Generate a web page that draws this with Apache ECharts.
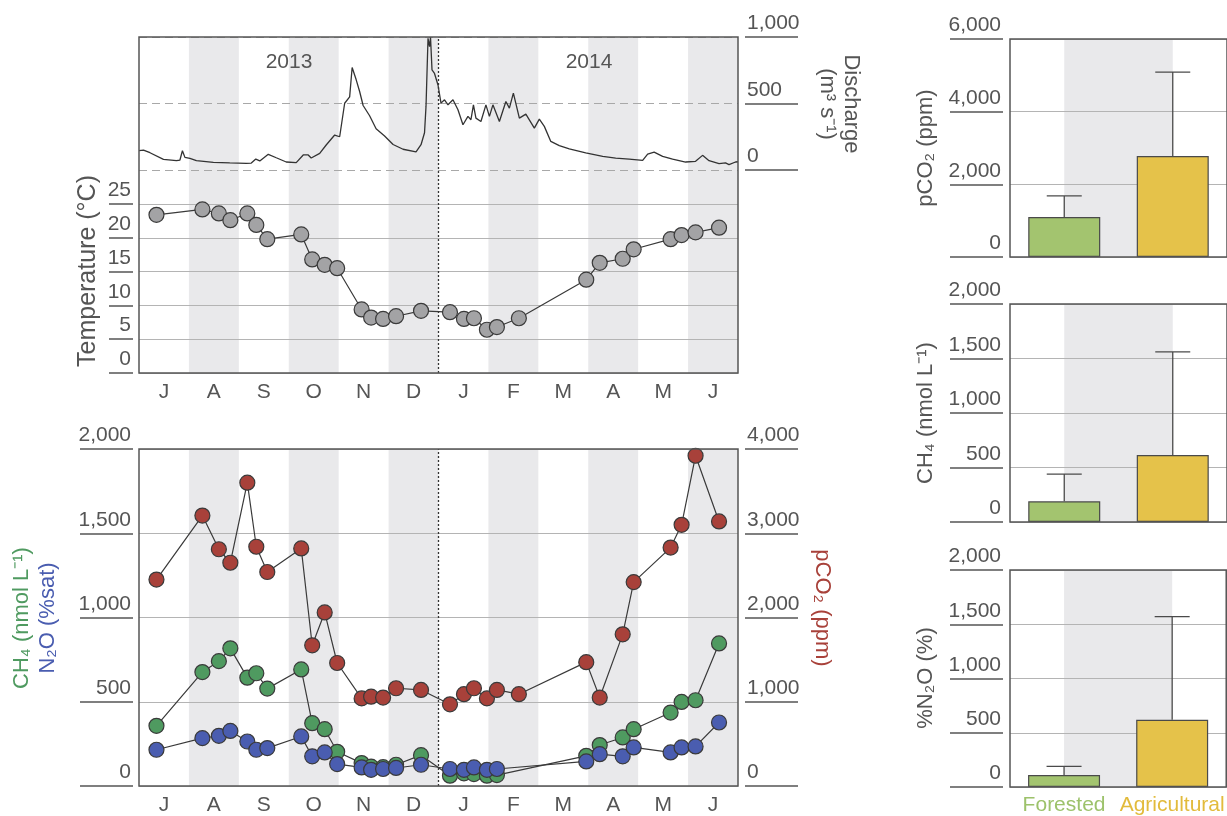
<!DOCTYPE html>
<html>
<head>
<meta charset="utf-8">
<script src="https://cdn.jsdelivr.net/npm/echarts@6.0.0/dist/echarts.min.js"></script>
<style>
  html, body { margin: 0; padding: 0; background: #fff; }
  #chart { width: 1227px; height: 816px; }
</style>
</head>
<body>
<div id="chart"></div>
<script>
// months shown on the time axes (Jul 2013 - Jun 2014)
const monthLabels = ["J", "A", "S", "O", "N", "D", "J", "F", "M", "A", "M", "J"];
const yearLabels = ["2013", "2014"];

// sampling dates, in months since 1 Jul 2013
const sampleMonth = [0.35, 1.27, 1.60, 1.83, 2.17, 2.35, 2.57, 3.25, 3.47, 3.72, 3.97, 4.46, 4.65, 4.89, 5.15,
  5.65, 6.23, 6.51, 6.71, 6.97, 7.17, 7.61, 8.96, 9.23, 9.69, 9.91, 10.65, 10.87, 11.15, 11.62];
const temperature = [23.4, 24.2, 23.6, 22.6, 23.6, 21.9, 19.8, 20.5, 16.8, 16.0, 15.5, 9.4, 8.2, 8.0, 8.4,
  9.2, 9.0, 8.0, 8.1, 6.4, 6.8, 8.1, 13.8, 16.3, 16.9, 18.3, 19.8, 20.4, 20.8, 21.5];
const pco2 = [2450, 3210, 2810, 2650, 3600, 2840, 2540, 2820, 1670, 2060, 1460, 1040, 1060, 1050, 1160,
  1140, 970, 1090, 1160, 1040, 1140, 1090, 1470, 1050, 1800, 2420, 2830, 3100, 3920, 3140];
const ch4 = [357, 676, 741, 817, 643, 669, 578, 692, 373, 337, 203, 136, 115, 112, 126,
  183, 61, 75, 71, 61, 65, null, 179, 243, 288, 337, 436, 499, 509, 846];
const n2o = [215, 284, 298, 327, 264, 215, 225, 294, 176, 199, 130, 110, 96, 101, 107,
  126, 101, 96, 110, 96, 101, null, 146, 189, 176, 229, 199, 229, 235, 377];

// river discharge (m3 s-1), months since 1 Jul 2013
const dischargeMonth = [0, 0.09, 0.22, 0.49, 0.75, 0.82, 0.87, 0.92, 1.02, 1.15, 1.49, 1.82, 2.15, 2.25, 2.34,
  2.42, 2.59, 2.75, 2.95, 3.15, 3.29, 3.39, 3.45, 3.62, 3.75, 3.92, 4.02, 4.12, 4.22, 4.27, 4.35, 4.42, 4.49,
  4.62, 4.75, 4.92, 5.09, 5.29, 5.55, 5.65, 5.72, 5.75, 5.79, 5.82, 5.84, 5.87, 5.92, 5.99, 6.05, 6.12, 6.19,
  6.29, 6.39, 6.49, 6.59, 6.65, 6.70, 6.75, 6.85, 6.95, 7.02, 7.09, 7.22, 7.35, 7.42, 7.50, 7.62, 7.75, 7.92,
  8.02, 8.12, 8.25, 8.42, 8.62, 8.95, 9.29, 9.55, 9.82, 10.09, 10.19, 10.32, 10.49, 10.69, 10.95, 11.15, 11.29,
  11.42, 11.62, 11.75, 11.82, 11.95, 12];
const dischargeValue = [146, 150, 130, 80, 70, 75, 145, 95, 87, 70, 57, 53, 50, 52, 82,
  68, 118, 92, 60, 55, 113, 113, 90, 125, 188, 263, 250, 502, 550, 771, 680, 590, 485,
  408, 310, 256, 192, 156, 136, 190, 280, 480, 990, 928, 1000, 752, 726, 639, 503, 528, 490,
  528, 453, 340, 403, 378, 490, 390, 365, 490, 403, 490, 365, 515, 465, 578, 390, 420, 315,
  383, 328, 215, 183, 158, 128, 103, 90, 82, 72, 120, 135, 103, 82, 60, 65, 110,
  70, 48, 53, 40, 60, 62];
const yearBoundary = 6;

// land-use comparison: mean and upper error
const landUse = ["Forested", "Agricultural"];
const pco2Mean = [1100, 2780];
const pco2Err = [1680, 5090];
const ch4Mean = [190, 615];
const ch4Err = [440, 1560];
const n2oMean = [110, 620];
const n2oErr = [190, 1570];

const FONT = "'Liberation Sans', Arial, Helvetica, sans-serif";
const TXT = "#555";
const GRID_LINE = "#b4b4b4";
const SHADE = "#e9e9eb";
const GREEN = "#4f9a60", BLUE = "#4a5db0", RED = "#a8413a", GRAY = "#a3a3a5";
const LAND_COLORS = ["#a3c46f", "#e5c24a"];
const LAND_TEXT = ["#9dc26b", "#e2bb3c"];

const fmt = v => v.toLocaleString("en-US");
const zip = (xs, ys) => xs.map((x, i) => [x, ys[i]]);

function tickAxis(extra) {
  return Object.assign({
    type: "value", z: 1,
    axisLine: { show: false, onZero: false },
    axisTick: { show: true, length: 53, lineStyle: { color: "#555", width: 1.5 } },
    axisLabel: {
      margin: 2, verticalAlign: "bottom", padding: [0, 0, 3, 0],
      fontSize: 21, fontFamily: FONT, color: TXT, formatter: fmt
    },
    splitLine: { show: true, lineStyle: { color: GRID_LINE, width: 1.2 } }
  }, extra);
}
const rightLabel = { margin: 2, align: "left", verticalAlign: "bottom", padding: [0, 0, 3, 0], fontSize: 21, fontFamily: FONT, color: TXT, formatter: fmt };

function monthAxis(gridIndex) {
  return {
    gridIndex, type: "category", position: "bottom", z: 0,
    data: monthLabels.map((m, i) => String(i)), boundaryGap: true,
    axisLine: { show: false, onZero: false }, axisTick: { show: false },
    axisLabel: {
      interval: 0, margin: 9, fontSize: 21, fontFamily: FONT, color: TXT,
      formatter: (v, i) => monthLabels[i]
    },
    splitLine: { show: false },
    splitArea: { show: true, interval: 0, areaStyle: { color: ["rgba(255,255,255,0)", SHADE] } }
  };
}
const hiddenTime = gridIndex => ({ gridIndex, type: "value", min: 0, max: 12, show: false, position: "top", axisLine: { onZero: false } });

const frame = { show: true, borderColor: "#555", borderWidth: 1.5, backgroundColor: "rgba(0,0,0,0)", z: 10 };
const barTops = [39, 304, 570];

const grids = [
  Object.assign({ left: 139, top: 37, width: 599, height: 336 }, frame),   // 0 top frame
  { left: 139, top: 37, width: 599, height: 133 },                          // 1 discharge
  { left: 139, top: 204, width: 599, height: 169 },                         // 2 temperature
  Object.assign({ left: 139, top: 449, width: 599, height: 338 }, frame),  // 3 gases
].concat(barTops.map(t => Object.assign({ left: 1010, top: t, width: 219, height: 218 }, frame)));

const xAxes = [
  monthAxis(0), hiddenTime(0), hiddenTime(1), hiddenTime(2),
  monthAxis(3), hiddenTime(3)
].concat([0, 1, 2].map(k => ({
  gridIndex: 4 + k, type: "category", data: landUse, boundaryGap: true,
  axisLine: { show: false, onZero: false }, axisTick: { show: false },
  axisLabel: {
    show: k === 2, interval: 0, margin: 8, fontSize: 21, fontFamily: FONT,
    formatter: (v, i) => "{c" + i + "|" + v + "}",
    rich: { c0: { color: LAND_TEXT[0], fontSize: 21, fontFamily: FONT }, c1: { color: LAND_TEXT[1], fontSize: 21, fontFamily: FONT } }
  }
}))).concat([0, 1, 2].map(k => ({
  // hidden index axis for the shaded band between the two land-use bars
  gridIndex: 4 + k, type: "value", min: -0.5, max: 1.5, show: false, position: "top", axisLine: { onZero: false }
})));

const yAxes = [
  { gridIndex: 0, type: "value", min: 0, max: 1, show: false, axisLine: { onZero: false } },
  tickAxis({ gridIndex: 1, position: "right", offset: 7, min: 0, max: 1000, interval: 500, axisLabel: rightLabel,
    splitLine: { show: true, lineStyle: { color: "#a8a8a8", width: 1.2, type: [8, 5] } } }),
  tickAxis({ gridIndex: 2, position: "left", offset: 6, min: 0, max: 25, interval: 5,
    axisTick: { show: true, length: 24, lineStyle: { color: "#555", width: 1.5 } } }),
  tickAxis({ gridIndex: 3, position: "left", offset: 6, min: 0, max: 2000, interval: 500 }),
  tickAxis({ gridIndex: 3, position: "right", offset: 7, min: 0, max: 4000, interval: 1000, axisLabel: rightLabel,
    splitLine: { show: false } }),
  tickAxis({ gridIndex: 4, position: "left", offset: 7, min: 0, max: 6000, interval: 2000 }),
  tickAxis({ gridIndex: 5, position: "left", offset: 7, min: 0, max: 2000, interval: 500 }),
  tickAxis({ gridIndex: 6, position: "left", offset: 7, min: 0, max: 2000, interval: 500 })
];

const dotted = {
  symbol: "none", silent: true, label: { show: false },
  lineStyle: { type: [2, 2], color: "#333", width: 1.3 },
  data: [{ xAxis: yearBoundary }]
};

function pointSeries(xi, yi, ys, color, extra) {
  return Object.assign({
    type: "line", xAxisIndex: xi, yAxisIndex: yi, data: zip(sampleMonth, ys),
    symbol: "circle", symbolSize: 15, connectNulls: true,
    itemStyle: { color, borderColor: "#3a3a3a", borderWidth: 1.2 },
    lineStyle: { color: "#3a3a3a", width: 1.2 }
  }, extra || {});
}

function landSeries(k, means, errs) {
  return [
    {
      type: "line", xAxisIndex: 9 + k, yAxisIndex: 5 + k, data: [],
      markArea: { silent: true, z: 0.5, itemStyle: { color: SHADE }, data: [[{ xAxis: 0 }, { xAxis: 1 }]] }
    },
    {
      type: "bar", xAxisIndex: 6 + k, yAxisIndex: 5 + k, barWidth: 72, z: 2,
      data: means.map((v, i) => ({ value: v, itemStyle: { color: LAND_COLORS[i] } })),
      itemStyle: { borderColor: "#4a4a4a", borderWidth: 1.2 }
    },
    {
      type: "custom", xAxisIndex: 6 + k, yAxisIndex: 5 + k, z: 3,
      data: means.map((v, i) => [i, v, errs[i]]),
      encode: { x: 0, y: [1, 2] },
      renderItem: (params, api) => {
        const lo = api.coord([api.value(0), api.value(1)]);
        const hi = api.coord([api.value(0), api.value(2)]);
        const st = { stroke: "#4a4a4a", lineWidth: 1.3 };
        return {
          type: "group", children: [
            { type: "line", shape: { x1: lo[0], y1: lo[1], x2: hi[0], y2: hi[1] }, style: st },
            { type: "line", shape: { x1: hi[0] - 17.5, y1: hi[1], x2: hi[0] + 17.5, y2: hi[1] }, style: st }
          ]
        };
      }
    }
  ];
}

const series = [
  { type: "line", xAxisIndex: 1, yAxisIndex: 0, data: [], markLine: dotted },
  {
    type: "line", xAxisIndex: 2, yAxisIndex: 1, data: zip(dischargeMonth, dischargeValue),
    showSymbol: false, lineStyle: { color: "#333", width: 1.3 }
  },
  pointSeries(3, 2, temperature, GRAY),
  pointSeries(5, 4, pco2, RED, { markLine: dotted }),
  pointSeries(5, 3, ch4, GREEN),
  pointSeries(5, 3, n2o, BLUE)
].concat(landSeries(0, pco2Mean, pco2Err), landSeries(1, ch4Mean, ch4Err), landSeries(2, n2oMean, n2oErr));

function label(text, x, y, rot, color, size) {
  return {
    type: "text", x, y, rotation: rot, silent: true, z: 20,
    style: { text, fontSize: size || 22, fontFamily: FONT, fill: color || TXT, align: "center", verticalAlign: "middle" }
  };
}
const R = Math.PI / 2;
const graphic = [
  label(yearLabels[0], 289, 62, 0, TXT, 21),
  label(yearLabels[1], 589, 62, 0, TXT, 21),
  label("Temperature (°C)", 88, 271, R, TXT, 25),
  label("Discharge", 851, 104, -R),
  label("(m³ s⁻¹)", 827, 104, -R),
  label("CH₄ (nmol L⁻¹)", 22, 618, R, GREEN),
  label("N₂O (%sat)", 48, 618, R, BLUE),
  label("pCO₂ (ppm)", 822, 608, -R, RED),
  label("pCO₂ (ppm)", 926, 148, R),
  label("CH₄ (nmol L⁻¹)", 926, 413, R),
  label("%N₂O (%)", 926, 678, R)
];

const chart = echarts.init(document.getElementById("chart"));
chart.setOption({
  animation: false,
  backgroundColor: "#fff",
  textStyle: { fontFamily: FONT },
  grid: grids,
  xAxis: xAxes,
  yAxis: yAxes,
  series,
  graphic
});
window.addEventListener("resize", () => chart.resize());
</script>
</body>
</html>
